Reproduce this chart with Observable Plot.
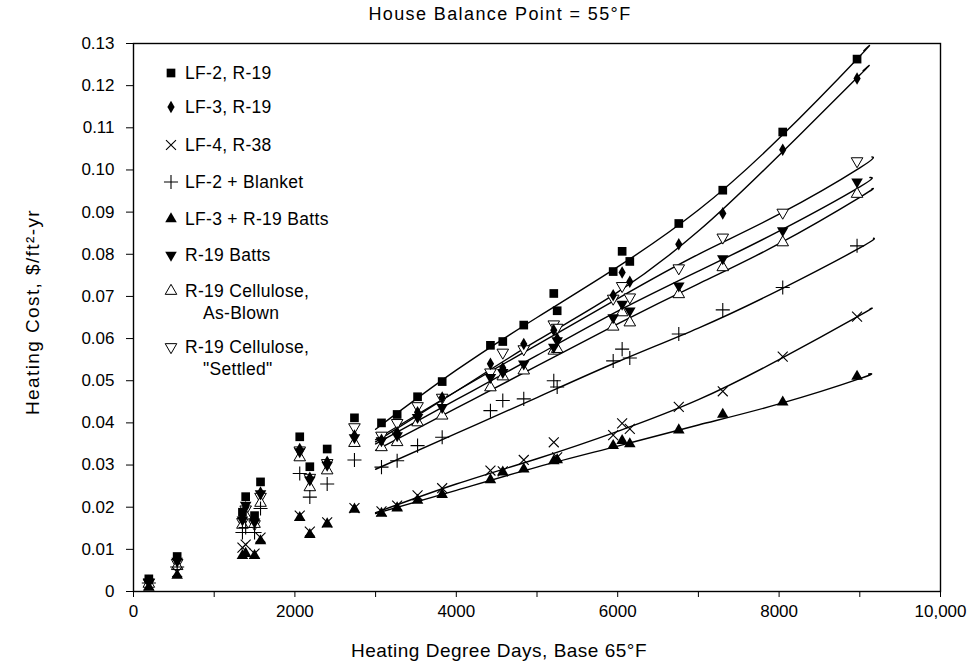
<!DOCTYPE html>
<html><head><meta charset="utf-8">
<script src="https://cdn.jsdelivr.net/npm/d3@7"></script>
<script src="https://cdn.jsdelivr.net/npm/@observablehq/plot@0.6"></script>
<style>
body{margin:0;background:#fff;font-family:"Liberation Sans",Arial,sans-serif;color:#000}
#wrap{position:relative;width:969px;height:668px;overflow:hidden}
#title{position:absolute;top:3px;left:300px;width:400px;text-align:center;font-size:18px;letter-spacing:1.4px;line-height:22px}
#xlabel{position:absolute;top:640px;left:299px;width:400px;text-align:center;font-size:19px;letter-spacing:0.5px;line-height:22px}
#ylabel{position:absolute;left:33px;top:312px;width:300px;margin-left:-150px;margin-top:-11px;text-align:center;font-size:19px;letter-spacing:1.4px;line-height:22px;transform:rotate(-90deg)}
#chart{position:absolute;top:28px;left:0}
.lg{position:absolute;left:163px;font-size:17.5px;line-height:22px;white-space:nowrap;letter-spacing:0.3px}
.lg svg{position:absolute;left:0;top:3px}
.lg span{position:absolute;left:22px;top:0}
.lg span.l2{left:40px;top:22px}
</style></head>
<body><div id="wrap">
<div id="title">House Balance Point = 55°F</div>
<div id="chart"></div>
<div id="xlabel">Heating Degree Days, Base 65°F</div>
<div id="ylabel">Heating Cost, $/ft²-yr</div>
</div>
<script>
// Heating degree days (base 65°F) of the sites
const hdd = [190, 541, 1350, 1390, 1500, 1574, 2060, 2185, 2400, 2738, 3073, 3267, 3520, 3825, 4423, 4576, 4836, 5208, 5250, 5944, 6055, 6150, 6757, 7302, 8045, 8966];
// Heating cost, $/ft²-yr, per series
const lf2r19   = [0.003, 0.0083, 0.0188, 0.0225, 0.018, 0.026, 0.0367, 0.0296, 0.0338, 0.0412, 0.040, 0.042, 0.0462, 0.0498, 0.0584, 0.0593, 0.0632, 0.0707, 0.0666, 0.0759, 0.0807, 0.0783, 0.0873, 0.0952, 0.109, 0.1263];
const lf3r19   = [0.0025, 0.0075, 0.0176, 0.020, 0.0168, 0.0235, 0.0338, 0.027, 0.0308, 0.037, 0.036, 0.0378, 0.0425, 0.046, 0.054, 0.053, 0.0587, 0.062, 0.060, 0.0703, 0.0757, 0.0735, 0.0824, 0.0897, 0.1048, 0.1217];
const lf4r38   = [0.0015, 0.0046, 0.0104, 0.0111, 0.009, 0.0128, 0.018, 0.0142, 0.0164, 0.0198, 0.019, 0.0204, 0.0228, 0.0245, 0.0287, 0.0285, 0.0312, 0.0354, 0.0318, 0.0371, 0.0399, 0.0386, 0.0438, 0.0475, 0.0557, 0.0652];
const lf2blank = [0.002, 0.0058, 0.014, 0.0152, 0.014, 0.0197, 0.028, 0.0224, 0.0255, 0.0312, 0.0295, 0.031, 0.0346, 0.0366, 0.0429, 0.0453, 0.0457, 0.050, 0.0485, 0.0547, 0.0575, 0.0554, 0.0611, 0.0668, 0.0721, 0.082];
const lf3batts = [0.001, 0.0038, 0.0085, 0.009, 0.0085, 0.012, 0.0175, 0.0135, 0.016, 0.0195, 0.0185, 0.0198, 0.0216, 0.023, 0.0265, 0.0283, 0.029, 0.031, 0.0312, 0.0346, 0.0358, 0.035, 0.0383, 0.042, 0.0449, 0.051];
const r19batts = [0.0022, 0.0072, 0.017, 0.0205, 0.0165, 0.0232, 0.0332, 0.0265, 0.030, 0.0365, 0.0358, 0.037, 0.0413, 0.0437, 0.0508, 0.052, 0.054, 0.058, 0.0595, 0.065, 0.0682, 0.0666, 0.0725, 0.079, 0.0856, 0.0972];
const celBlown = [0.0018, 0.006, 0.0158, 0.018, 0.016, 0.021, 0.0318, 0.0247, 0.0287, 0.0352, 0.0342, 0.0354, 0.0401, 0.0417, 0.0484, 0.051, 0.0524, 0.0571, 0.0575, 0.0628, 0.0662, 0.0638, 0.0705, 0.0769, 0.0828, 0.0943];
const celSettl = [0.0022, 0.0068, 0.0165, 0.0195, 0.016, 0.0225, 0.0335, 0.027, 0.0305, 0.039, 0.037, 0.040, 0.044, 0.046, 0.052, 0.0567, 0.0575, 0.0634, 0.0626, 0.0695, 0.0725, 0.0698, 0.0767, 0.084, 0.0899, 0.1021];

// Fitted curves (x = HDD)
const fitX = [3000, 4000, 5000, 6000, 7000, 8000, 9000];
const fitLf2r19   = [0.0385, 0.0525, 0.065, 0.077, 0.0905, 0.1075, 0.127];
const fitLf3r19   = [0.0355, 0.0475, 0.0595, 0.071, 0.0855, 0.1035, 0.1225];
const fitLf4r38   = [0.0187, 0.0255, 0.0315, 0.038, 0.0455, 0.055, 0.0655];
const fitLf2blank = [0.029, 0.0375, 0.046, 0.0545, 0.0625, 0.0715, 0.0815];
const fitLf3batts = [0.0185, 0.024, 0.0295, 0.0345, 0.0395, 0.0445, 0.0505];
const fitR19batts = [0.035, 0.0455, 0.056, 0.0665, 0.076, 0.0855, 0.096];
const fitCelBlown = [0.0335, 0.0435, 0.0535, 0.0635, 0.073, 0.0825, 0.0935];
const fitCelSettl = [0.036, 0.0475, 0.0585, 0.0695, 0.080, 0.0895, 0.1005];
// curve end points
const fitEndX = [9050, 9040, 9125, 9170, 9110, 9125, 9150, 9150];
const fitEndY = [0.1283, 0.1235, 0.067, 0.0838, 0.0516, 0.0982, 0.0955, 0.1031];

const xTicks = [0, 1000, 2000, 3000, 4000, 5000, 6000, 7000, 8000, 9000, 10000];
const xTickLabels = ["0", "", "2000", "", "4000", "", "6000", "", "8000", "", "10,000"];
const yTicks = [0, 0.01, 0.02, 0.03, 0.04, 0.05, 0.06, 0.07, 0.08, 0.09, 0.10, 0.11, 0.12, 0.13];
const yTickLabels = ["0", "0.01", "0.02", "0.03", "0.04", "0.05", "0.06", "0.07", "0.08", "0.09", "0.10", "0.11", "0.12", "0.13"];

const seriesNames = ["LF-2, R-19", "LF-3, R-19", "LF-4, R-38", "LF-2 + Blanket", "LF-3 + R-19 Batts", "R-19 Batts", "R-19 Cellulose,|As-Blown", "R-19 Cellulose,|\"Settled\""];

// custom downward triangle symbol
const triangleDown = {
  draw(ctx, size) {
    const s = Math.sqrt(size * 4 / Math.sqrt(3));
    const h = s * Math.sqrt(3) / 2;
    ctx.moveTo(0, h * 2 / 3);
    ctx.lineTo(s / 2, -h / 3);
    ctx.lineTo(-s / 2, -h / 3);
    ctx.closePath();
  }
};

const styles = [
  {symbol: d3.symbolSquare, fill: "black", stroke: "none", r: 4.9, sw: 0},
  {symbol: d3.symbolDiamond, fill: "black", stroke: "none", r: 3.8, sw: 0},
  {symbol: d3.symbolTimes, fill: "none", stroke: "black", r: 4.6, sw: 1.1},
  {symbol: d3.symbolPlus, fill: "none", stroke: "black", r: 4.6, sw: 1.1},
  {symbol: d3.symbolTriangle, fill: "black", stroke: "none", r: 4.3, sw: 0},
  {symbol: triangleDown, fill: "black", stroke: "none", r: 4.3, sw: 0},
  {symbol: d3.symbolTriangle, fill: "white", stroke: "black", r: 4.3, sw: 1},
  {symbol: triangleDown, fill: "white", stroke: "black", r: 4.3, sw: 1}
];

const values = [lf2r19, lf3r19, lf4r38, lf2blank, lf3batts, r19batts, celBlown, celSettl];
const fits = [fitLf2r19, fitLf3r19, fitLf4r38, fitLf2blank, fitLf3batts, fitR19batts, fitCelBlown, fitCelSettl];

const lineMarks = fits.map((f, i) => {
  const rows = fitX.map((x, j) => ({x, y: f[j]}));
  rows.push({x: fitEndX[i], y: fitEndY[i]});
  return Plot.line(rows, {x: "x", y: "y", curve: "natural", stroke: "black", strokeWidth: 1.4});
});
const dotMarks = [];
[7, 6, 3, 2, 4, 5, 1, 0].forEach(i => {
  const s = styles[i];
  const rows = hdd.map((x, j) => ({x, y: values[i][j]}));
  dotMarks.push(Plot.dot(rows, {x: "x", y: "y", symbol: s.symbol, r: s.r, fill: s.fill, stroke: s.stroke, strokeWidth: s.sw}));
});

const chart = Plot.plot({
  width: 969, height: 640,
  marginLeft: 133, marginRight: 29, marginTop: 15, marginBottom: 77,
  style: {fontFamily: "Liberation Sans, Arial, sans-serif", fontSize: "17px", color: "black", background: "white"},
  x: {domain: [0, 10000], ticks: xTicks, tickFormat: d => xTickLabels[xTicks.indexOf(d)], tickSize: 6, tickPadding: 7, label: null},
  y: {domain: [0, 0.13], ticks: yTicks, tickFormat: d => yTickLabels[yTicks.findIndex(t => Math.abs(t - d) < 1e-9)], tickSize: 7, tickPadding: 12, label: null},
  marks: [
    Plot.frame({stroke: "black", strokeWidth: 1.4}),
    ...lineMarks,
    ...dotMarks
  ]
});
document.getElementById("chart").appendChild(chart);

// Legend (HTML overlay)
const wrap = document.getElementById("wrap");
const legendTops = [62, 96, 134, 171, 208, 244, 280, 336];
seriesNames.forEach((name, i) => {
  const s = styles[i];
  const row = document.createElement("div");
  row.className = "lg";
  row.style.top = legendTops[i] + "px";
  const size = Math.PI * s.r * s.r;
  const path = d3.symbol(s.symbol, size)();
  row.innerHTML = `<svg width="16" height="16" viewBox="-8 -8 16 16"><path d="${path}" fill="${s.fill}" stroke="${s.stroke}" stroke-width="${s.sw}"/></svg>`;
  const parts = name.split("|");
  const sp = document.createElement("span"); sp.textContent = parts[0]; row.appendChild(sp);
  if (parts[1]) { const sp2 = document.createElement("span"); sp2.className = "l2"; sp2.textContent = parts[1]; row.appendChild(sp2); }
  wrap.appendChild(row);
});
</script></body></html>
